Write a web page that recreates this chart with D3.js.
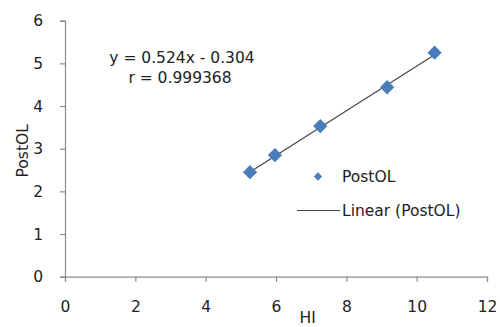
<!DOCTYPE html>
<html>
<head>
<meta charset="utf-8">
<script src="https://cdn.jsdelivr.net/npm/d3@7"></script>
<style>
  html, body { margin: 0; padding: 0; background: #fff; }
  svg { display: block; }
  text { font-family: Tahoma, "DejaVu Sans", sans-serif; fill: #222; }
</style>
</head>
<body>
<script>
// Measurements: HI vs PostOL
const hiValues = [5.26, 5.97, 7.26, 9.16, 10.51];
const postOLValues = [2.45, 2.85, 3.53, 4.44, 5.25];

// Fitted trend line y = slope * x + intercept
const slope = 0.524;
const intercept = -0.304;
const correlation = "0.999368";

const xTicks = [0, 2, 4, 6, 8, 10, 12];
const yTicks = [0, 1, 2, 3, 4, 5, 6];

const width = 500, height = 327;
const svg = d3.select("body").append("svg")
  .attr("width", width).attr("height", height);

const x = d3.scaleLinear().domain([0, 12]).range([65, 487]);
const y = d3.scaleLinear().domain([0, 6]).range([276.7, 20.7]);

const axisColor = "#8c8c8c";
const markColor = "#4a7ebb";
const fontSize = 15.5;

// X axis
const gx = svg.append("g").attr("transform", `translate(0,${y(0)})`)
  .call(d3.axisBottom(x).tickValues(xTicks).tickSize(5).tickPadding(19).tickFormat(d3.format("d")));
// Y axis
const gy = svg.append("g").attr("transform", `translate(${x(0)},0)`)
  .call(d3.axisLeft(y).tickValues(yTicks).tickSize(5).tickPadding(17).tickFormat(d3.format("d")));

[gx, gy].forEach(g => {
  g.selectAll("path.domain").attr("stroke", axisColor).attr("stroke-width", 1.2);
  g.selectAll(".tick line").attr("stroke", axisColor).attr("stroke-width", 1.2);
  g.selectAll(".tick text").attr("font-size", fontSize)
    .attr("font-family", "Tahoma, 'DejaVu Sans', sans-serif").attr("fill", "#222");
});

// Axis titles
svg.append("text").attr("x", x(6.9)).attr("y", 323)
  .attr("text-anchor", "middle").attr("font-size", fontSize).text("HI");
svg.append("text")
  .attr("transform", `translate(28,${y(2.95)}) rotate(-90)`)
  .attr("text-anchor", "middle").attr("font-size", fontSize).text("PostOL");

// Trend line across the data range
const xMin = d3.min(hiValues), xMax = d3.max(hiValues);
const trend = [xMin, xMax].map(v => [v, slope * v + intercept]);
svg.append("path")
  .attr("d", d3.line().x(d => x(d[0])).y(d => y(d[1]))(trend))
  .attr("stroke", "#444").attr("stroke-width", 1.2).attr("fill", "none");

// Data points as diamonds
const diamond = d3.symbol().type(d3.symbolDiamond2).size(130);
svg.append("g").selectAll("path")
  .data(hiValues.map((h, i) => [h, postOLValues[i]]))
  .join("path")
  .attr("transform", d => `translate(${x(d[0])},${y(d[1])})`)
  .attr("d", diamond)
  .attr("fill", markColor);

// Equation label
const eq = svg.append("text").attr("text-anchor", "middle").attr("font-size", fontSize);
eq.append("tspan").attr("x", 182).attr("y", 63)
  .text(`y = ${slope}x - ${Math.abs(intercept)}`);
eq.append("tspan").attr("x", 180).attr("y", 83)
  .text(`r = ${correlation}`);

// Legend
const legend = svg.append("g");
legend.append("path")
  .attr("transform", "translate(318,176.5)")
  .attr("d", d3.symbol().type(d3.symbolDiamond2).size(45))
  .attr("fill", markColor);
legend.append("text").attr("x", 342).attr("y", 182)
  .attr("font-size", fontSize).text("PostOL");
legend.append("line")
  .attr("x1", 297).attr("x2", 340).attr("y1", 210.5).attr("y2", 210.5)
  .attr("stroke", "#444").attr("stroke-width", 1.2);
legend.append("text").attr("x", 342).attr("y", 216)
  .attr("font-size", fontSize).text("Linear (PostOL)");
</script>
</body>
</html>
